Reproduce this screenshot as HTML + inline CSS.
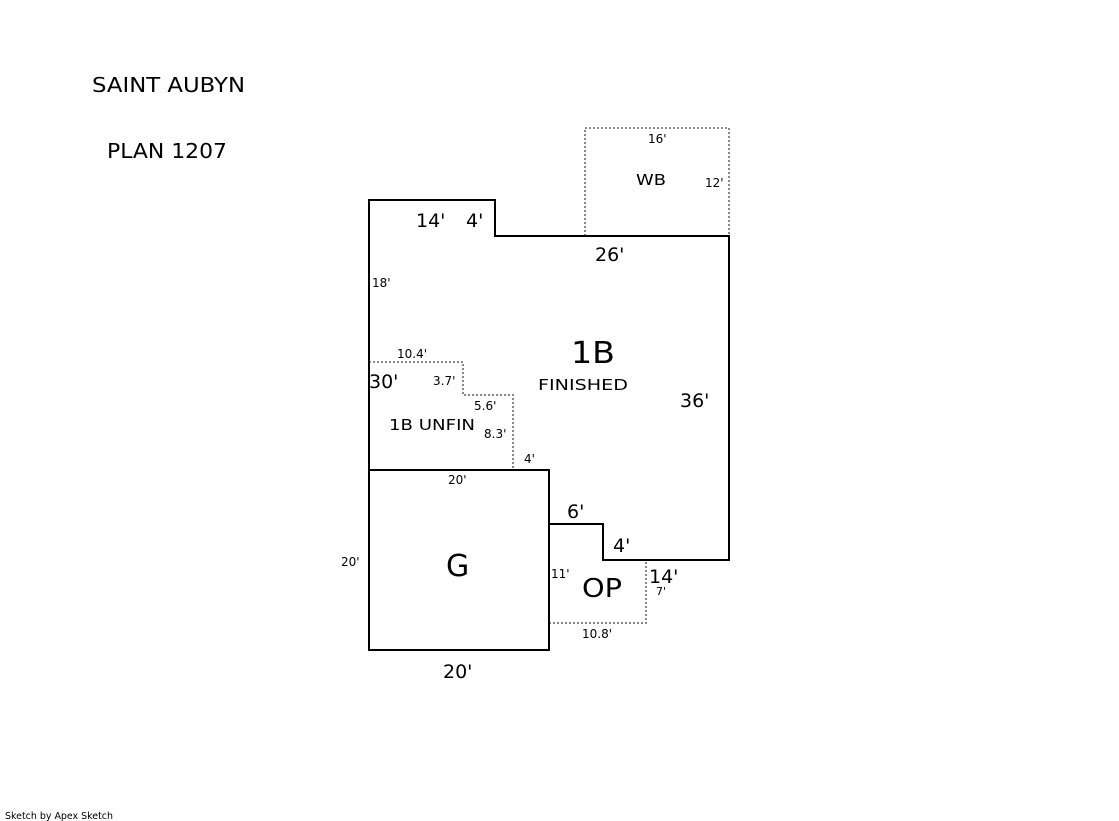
<!DOCTYPE html>
<html><head><meta charset="utf-8"><style>
html,body{margin:0;padding:0;background:#fff;}
svg{display:block;}
text{font-family:"DejaVu Sans","Liberation Sans",sans-serif;fill:#000;}
</style></head><body>
<svg width="1119" height="821" viewBox="0 0 1119 821" xmlns="http://www.w3.org/2000/svg">
<rect width="1119" height="821" fill="#fff"/>
<g fill="none" stroke="#888" stroke-width="2" stroke-dasharray="2,2">
<polyline points="585,236 585,128 729,128 729,236"/>
<polyline points="369,362 463,362 463,395 513,395 513,470"/>
<polyline points="549,623 646,623 646,560"/>
</g>
<g fill="none" stroke="#000" stroke-width="2">
<polyline points="369,470 369,200 495,200 495,236 729,236 729,560 603,560 603,524 549,524"/>
<rect x="369" y="470" width="180" height="180"/>
</g>
<text x="92" y="92" font-size="20" textLength="153" lengthAdjust="spacingAndGlyphs">SAINT AUBYN</text>
<text x="107" y="158" font-size="20" textLength="120" lengthAdjust="spacingAndGlyphs">PLAN 1207</text>
<text x="648" y="143" font-size="12">16'</text>
<text x="636" y="185" font-size="15" textLength="30" lengthAdjust="spacingAndGlyphs">WB</text>
<text x="705" y="187" font-size="12">12'</text>
<text x="416" y="227" font-size="19">14'</text>
<text x="466" y="227" font-size="19">4'</text>
<text x="595" y="261" font-size="19">26'</text>
<text x="372" y="287" font-size="12">18'</text>
<text x="571" y="363" font-size="30" textLength="44" lengthAdjust="spacingAndGlyphs">1B</text>
<text x="538" y="390" font-size="15" textLength="90" lengthAdjust="spacingAndGlyphs">FINISHED</text>
<text x="397" y="358" font-size="12">10.4'</text>
<text x="369" y="388" font-size="19">30'</text>
<text x="433" y="385" font-size="12">3.7'</text>
<text x="474" y="410" font-size="12">5.6'</text>
<text x="389" y="430" font-size="15" textLength="86" lengthAdjust="spacingAndGlyphs">1B UNFIN</text>
<text x="484" y="438" font-size="12">8.3'</text>
<text x="524" y="463" font-size="12">4'</text>
<text x="680" y="407" font-size="19">36'</text>
<text x="448" y="484" font-size="12">20'</text>
<text x="567" y="518" font-size="19">6'</text>
<text x="613" y="552" font-size="19">4'</text>
<text x="341" y="566" font-size="12">20'</text>
<text x="446" y="576" font-size="30">G</text>
<text x="551" y="578" font-size="12">11'</text>
<text x="582" y="597" font-size="26" textLength="40" lengthAdjust="spacingAndGlyphs">OP</text>
<text x="649" y="583" font-size="19">14'</text>
<text x="656" y="595" font-size="11">7'</text>
<text x="582" y="638" font-size="12">10.8'</text>
<text x="443" y="678" font-size="19">20'</text>
<text x="5" y="819" font-size="10" textLength="108" lengthAdjust="spacingAndGlyphs">Sketch by Apex Sketch</text>
</svg>
</body></html>
